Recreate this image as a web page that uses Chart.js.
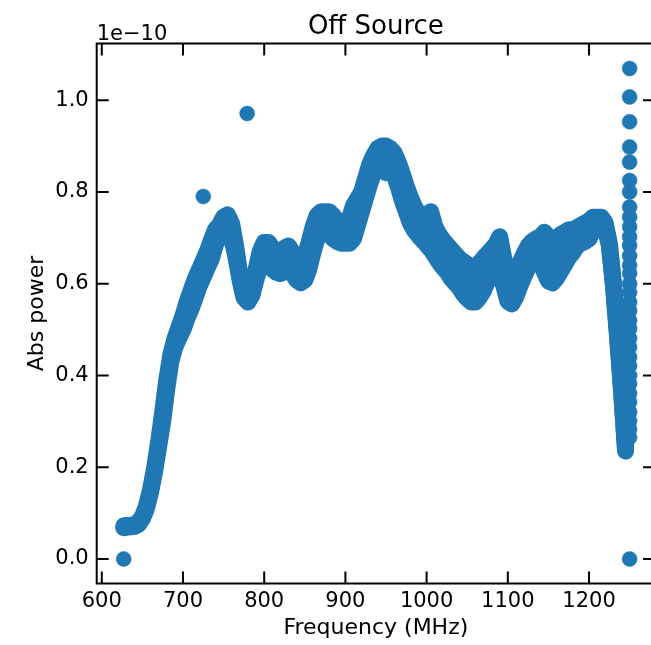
<!DOCTYPE html>
<html>
<head>
<meta charset="utf-8">
<script src="https://cdn.jsdelivr.net/npm/chart.js@4"></script>
<style>
    html, body { margin: 0; padding: 0; overflow: hidden; background: #fff; }
    #wrap { position: relative; width: 670px; height: 645px; }
</style>
</head>
<body>
<div id="wrap"><canvas id="offSourceChart"></canvas></div>
<script>
// Frequency (MHz) along the band of points
const freqMHz = [
    627, 630, 635, 640, 645, 650, 655, 660, 665, 670,
    675, 680, 685, 690, 695, 700, 705, 710, 715, 720,
    725, 730, 735, 740, 745, 750, 755, 760, 765, 770,
    775, 780, 785, 790, 795, 800, 805, 810, 815, 820,
    825, 830, 835, 840, 845, 850, 855, 860, 865, 870,
    875, 880, 885, 890, 895, 900, 905, 910, 915, 920,
    925, 930, 935, 940, 945, 950, 955, 960, 965, 970,
    975, 980, 985, 990, 995, 1000, 1005, 1010, 1015, 1020,
    1025, 1030, 1035, 1040, 1045, 1050, 1055, 1060, 1065, 1070,
    1075, 1080, 1085, 1090, 1095, 1100, 1105, 1110, 1115, 1120,
    1125, 1130, 1135, 1140, 1145, 1150, 1155, 1160, 1165, 1170,
    1175, 1180, 1185, 1190, 1195, 1200, 1205, 1210, 1215, 1220,
    1225, 1230, 1235, 1240, 1245
];

// Upper and lower edge of the scattered band (units of 1e-10)
const powerHi = [
    0.072, 0.073, 0.073, 0.075, 0.080, 0.092, 0.115, 0.150, 0.198, 0.255,
    0.320, 0.390, 0.445, 0.480, 0.505, 0.530, 0.560, 0.585, 0.610, 0.630,
    0.650, 0.670, 0.695, 0.718, 0.728, 0.745, 0.750, 0.730, 0.680, 0.620,
    0.580, 0.565, 0.590, 0.630, 0.670, 0.690, 0.690, 0.678, 0.668, 0.668,
    0.678, 0.682, 0.668, 0.658, 0.652, 0.658, 0.688, 0.722, 0.748, 0.757,
    0.757, 0.757, 0.748, 0.738, 0.728, 0.728, 0.742, 0.770, 0.785, 0.800,
    0.830, 0.860, 0.880, 0.895, 0.900, 0.900, 0.895, 0.885, 0.865, 0.840,
    0.812, 0.788, 0.768, 0.752, 0.742, 0.748, 0.757, 0.725, 0.708, 0.695,
    0.685, 0.675, 0.665, 0.655, 0.648, 0.642, 0.636, 0.636, 0.645, 0.655,
    0.665, 0.675, 0.685, 0.702, 0.655, 0.615, 0.600, 0.620, 0.645, 0.665,
    0.682, 0.692, 0.698, 0.702, 0.712, 0.702, 0.692, 0.697, 0.707, 0.712,
    0.717, 0.718, 0.722, 0.727, 0.732, 0.737, 0.745, 0.745, 0.745, 0.732,
    0.688, 0.602, 0.492, 0.372, 0.240
];
const powerLo = [
    0.068, 0.069, 0.070, 0.071, 0.075, 0.088, 0.110, 0.145, 0.190, 0.245,
    0.300, 0.370, 0.430, 0.462, 0.482, 0.500, 0.525, 0.545, 0.570, 0.595,
    0.615, 0.635, 0.655, 0.685, 0.705, 0.722, 0.728, 0.700, 0.660, 0.610,
    0.570, 0.560, 0.575, 0.610, 0.640, 0.660, 0.650, 0.632, 0.625, 0.622,
    0.627, 0.632, 0.622, 0.608, 0.602, 0.608, 0.632, 0.668, 0.698, 0.708,
    0.712, 0.708, 0.698, 0.692, 0.688, 0.688, 0.688, 0.698, 0.728, 0.758,
    0.788, 0.818, 0.842, 0.858, 0.852, 0.842, 0.848, 0.838, 0.812, 0.782,
    0.757, 0.732, 0.716, 0.705, 0.695, 0.685, 0.675, 0.662, 0.648, 0.636,
    0.626, 0.612, 0.602, 0.592, 0.578, 0.568, 0.560, 0.560, 0.570, 0.585,
    0.605, 0.620, 0.630, 0.626, 0.596, 0.562, 0.556, 0.572, 0.596, 0.616,
    0.636, 0.646, 0.652, 0.646, 0.626, 0.606, 0.602, 0.612, 0.627, 0.642,
    0.657, 0.668, 0.682, 0.688, 0.692, 0.698, 0.718, 0.728, 0.730, 0.722,
    0.683, 0.597, 0.487, 0.367, 0.235
];

// Points standing apart from the band
const dotFreq = [627, 725, 779, 1250];
const dotPower = [0.0, 0.79, 0.971, 0.0];

// Stack of points at the top edge of the band (1250 MHz)
const stackFreq = 1250;
const stackPower = [
    1.069, 1.007, 0.953, 0.898, 0.865, 0.825, 0.800, 0.767, 0.745, 0.724,
    0.702, 0.683, 0.661, 0.640, 0.622, 0.600, 0.581, 0.560, 0.541, 0.520,
    0.502, 0.481, 0.462, 0.440, 0.421, 0.400, 0.382, 0.361, 0.342, 0.320,
    0.301, 0.283, 0.265
];

const xTickValues = [600, 700, 800, 900, 1000, 1100, 1200];
const yTickValues = [0.0, 0.2, 0.4, 0.6, 0.8, 1.0];

const blue = '#1f77b4';
Chart.defaults.font.family = "'DejaVu Sans', sans-serif";
Chart.defaults.color = '#000';

const toPoints = (xs, ys) => xs.map((x, i) => ({ x: x, y: ys[i] }));

// box + inward ticks on every side, and the offset text
const frameTicks = {
    id: 'frameTicks',
    afterDraw(chart) {
        const { ctx, chartArea: a, scales: { x, y } } = chart;
        ctx.save();
        ctx.strokeStyle = '#000';
        ctx.lineWidth = 2;
        ctx.strokeRect(a.left, a.top, a.right - a.left, a.bottom - a.top);
        ctx.beginPath();
        xTickValues.forEach(v => {
            const px = x.getPixelForValue(v);
            ctx.moveTo(px, a.bottom); ctx.lineTo(px, a.bottom - 12);
            ctx.moveTo(px, a.top); ctx.lineTo(px, a.top + 12);
        });
        yTickValues.forEach(v => {
            const py = y.getPixelForValue(v);
            ctx.moveTo(a.left, py); ctx.lineTo(a.left + 12, py);
            ctx.moveTo(a.right, py); ctx.lineTo(a.right - 12, py);
        });
        ctx.stroke();
        ctx.fillStyle = '#000';
        ctx.font = "21px 'DejaVu Sans', sans-serif";
        ctx.textBaseline = 'alphabetic';
        ctx.textAlign = 'left';
        ctx.fillText('1e\u221210', a.left, a.top - 3.5);
        ctx.restore();
    }
};

const bandStyle = {
    borderColor: blue,
    backgroundColor: blue,
    borderWidth: 17,
    borderJoinStyle: 'round',
    borderCapStyle: 'round',
    pointRadius: 0,
    tension: 0
};
const dotStyle = {
    showLine: false,
    pointRadius: 7.5,
    pointBorderWidth: 0.5,
    pointBackgroundColor: blue,
    pointBorderColor: blue
};

const ctx = document.getElementById('offSourceChart').getContext('2d');
new Chart(ctx, {
    type: 'line',
    data: {
        datasets: [
            Object.assign({ label: 'band low', data: toPoints(freqMHz, powerLo), fill: false }, bandStyle),
            Object.assign({ label: 'band high', data: toPoints(freqMHz, powerHi), fill: '-1' }, bandStyle),
            Object.assign({ label: 'stack', data: stackPower.map(v => ({ x: stackFreq, y: v })) }, dotStyle),
            Object.assign({ label: 'dots', data: toPoints(dotFreq, dotPower) }, dotStyle)
        ]
    },
    options: {
        responsive: true,
        maintainAspectRatio: false,
        animation: false,
        layout: { padding: { left: 0, right: 15, top: 0, bottom: 0 } },
        plugins: {
            legend: { display: false },
            tooltip: { enabled: false },
            title: {
                display: true,
                fullSize: false,
                text: 'Off Source',
                color: '#000',
                font: { size: 26, weight: 'normal' },
                padding: { top: 11.4, bottom: 0.9 }
            }
        },
        scales: {
            x: {
                type: 'linear',
                min: 593.75,
                max: 1281.25,
                afterBuildTicks: s => { s.ticks = xTickValues.map(v => ({ value: v })); },
                afterFit: s => { s.height = 61.5; },
                grid: { display: false, drawTicks: false },
                border: { display: false },
                ticks: { padding: 5, color: '#000', font: { size: 21 }, callback: v => v },
                title: {
                    display: true,
                    text: 'Frequency (MHz)',
                    color: '#000',
                    font: { size: 22 },
                    padding: { top: 0, bottom: 3.8 }
                }
            },
            y: {
                type: 'linear',
                min: -0.0535,
                max: 1.1235,
                afterBuildTicks: s => { s.ticks = yTickValues.map(v => ({ value: v })); },
                afterFit: s => { s.width = 96.7; },
                grid: { display: false, drawTicks: false },
                border: { display: false },
                ticks: { padding: 8, color: '#000', font: { size: 21 }, callback: v => v.toFixed(1) },
                title: {
                    display: true,
                    text: 'Abs power',
                    color: '#000',
                    font: { size: 22 },
                    padding: { top: 23.8, bottom: 0 }
                }
            }
        }
    },
    plugins: [frameTicks]
});
</script>
</body>
</html>
